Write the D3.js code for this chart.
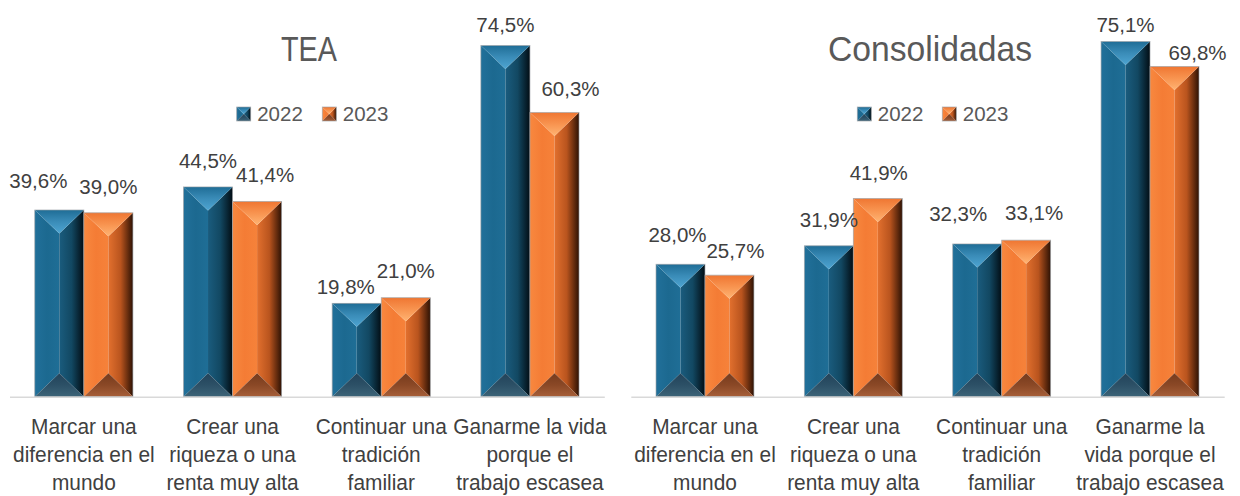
<!DOCTYPE html>
<html lang="es">
<head>
<meta charset="utf-8">
<title>Motivaciones para emprender 2022–2023</title>
<script src="https://cdn.jsdelivr.net/npm/d3@7"></script>
<style>
  html, body { margin: 0; padding: 0; background: #ffffff; }
  svg { display: block; }
  .title, .cat, .val, .leg { font-family: "Liberation Sans", Arial, sans-serif; }
  .title { fill: #595959; }
  .cat { fill: #404040; }
  .val { fill: #404040; }
  .leg { fill: #595959; }
</style>
</head>
<body>
<svg id="chart" width="1240" height="496"></svg>
<script>
// ---- data ----
const seriesNames = ["2022", "2023"];

const categoriesTEA = [
  "Marcar una\ndiferencia en el\nmundo",
  "Crear una\nriqueza o una\nrenta muy alta",
  "Continuar una\ntradición\nfamiliar",
  "Ganarme la vida\nporque el\ntrabajo escasea"
];
const tea2022 = [39.6, 44.5, 19.8, 74.5];
const tea2023 = [39.0, 41.4, 21.0, 60.3];

const categoriesConsolidadas = [
  "Marcar una\ndiferencia en el\nmundo",
  "Crear una\nriqueza o una\nrenta muy alta",
  "Continuar una\ntradición\nfamiliar",
  "Ganarme la\nvida porque el\ntrabajo escasea"
];
const cons2022 = [28.0, 31.9, 32.3, 75.1];
const cons2023 = [25.7, 41.9, 33.1, 69.8];

const valueDomain = [0, 80];

// ---- layout ----
const svg = d3.select("#chart");
const baseline = 396.7;
const catSqueeze = 0.95;   // horizontal squeeze for the condensed category text

const panels = [
  {
    title: "TEA", titleX: 309, titleY: 61, titleWidth: 56,
    categories: categoriesTEA, series: [tea2022, tea2023],
    left: 9.5, right: 604.3, top: 19.5,
    legendX: [236.7, 322.3],
    // hand-placed label offsets [dx, dy] per series, per category
    nudge: [[[-21, -3], [0, 0], [-11, 10], [0, 6]],
            [[0, 0], [8, 0], [0, -1], [16, 3]]]
  },
  {
    title: "Consolidadas", titleX: 930, titleY: 61, titleWidth: 204,
    categories: categoriesConsolidadas, series: [cons2022, cons2023],
    left: 630.8, right: 1224.2, top: 18.3,
    legendX: [857.3, 942.3],
    nudge: [[[-3, -3], [0, 0], [-19, -4], [0, 10]],
            [[6, 2], [1, 0], [8, -1], [23, 12]]]
  }
];

// ---- bevel paints ----
const palette = {
  "2022": {
    leftFace: ["#21709a", "#1c6990", "#1f6e96"],
    rightFace: ["#1a5c7e", "#124862", "#020d14"],
    topFace: ["#1f6d96", "#3a8cb8", "#4ea5d2"],
    bottomFace: ["#22435a", "#2c5066", "#3d6478"]
  },
  "2023": {
    leftFace: ["#f8883f", "#f47c35", "#f6823a"],
    rightFace: ["#e2702e", "#b9541e", "#2e1204"],
    topFace: ["#ef7632", "#f89450", "#ffb473"],
    bottomFace: ["#763b1d", "#8a4826", "#a75f39"]
  }
};

const defs = svg.append("defs");
function grad(id, stops, vertical) {
  const g = defs.append("linearGradient").attr("id", id)
    .attr("x1", 0).attr("y1", 0)
    .attr("x2", vertical ? 0 : 1).attr("y2", vertical ? 1 : 0);
  stops.forEach((c, i) => {
    g.append("stop").attr("offset", (i / (stops.length - 1)) * 100 + "%").attr("stop-color", c);
  });
}
seriesNames.forEach(s => {
  const p = palette[s];
  grad("lf" + s, p.leftFace, false);
  grad("rf" + s, p.rightFace, false);
  grad("tf" + s, p.topFace, true);
  grad("bf" + s, p.bottomFace, true);
});

// draws one bevelled block (four faces meeting on the centre line)
function bevel(g, s, x0, y0, w, h, depth) {
  const x1 = x0 + w, y1 = y0 + h, xc = x0 + w / 2;
  const d = Math.min(depth, h / 2);
  const pts = a => a.map(p => p.join(",")).join(" ");
  g.append("polygon").attr("points", pts([[x0, y0], [xc, y0 + d], [xc, y1 - d], [x0, y1]]))
    .attr("fill", `url(#lf${s})`);
  g.append("polygon").attr("points", pts([[x1, y0], [xc, y0 + d], [xc, y1 - d], [x1, y1]]))
    .attr("fill", `url(#rf${s})`);
  g.append("polygon").attr("points", pts([[x0, y0], [x1, y0], [xc, y0 + d]]))
    .attr("fill", `url(#tf${s})`);
  g.append("polygon").attr("points", pts([[x0, y1], [x1, y1], [xc, y1 - d]]))
    .attr("fill", `url(#bf${s})`);
  g.append("rect").attr("x", x0).attr("y", y0).attr("width", w).attr("height", h)
    .attr("fill", "none").attr("stroke", "#9da3a8").attr("stroke-width", 0.8)
    .attr("stroke-opacity", 0.8);
}

const fmt = v => d3.format(".1f")(v).replace(".", ",") + "%";

panels.forEach(cfg => {
  const g = svg.append("g");

  const x0 = d3.scaleBand()
    .domain(d3.range(cfg.categories.length))
    .range([cfg.left, cfg.right])
    .paddingInner(0.34).paddingOuter(0.17);
  const x1 = d3.scaleBand().domain(seriesNames).range([0, x0.bandwidth()]);
  const y = d3.scaleLinear().domain(valueDomain).range([baseline, cfg.top]);

  // title
  g.append("text").attr("class", "title")
    .attr("x", cfg.titleX - cfg.titleWidth / 2).attr("y", cfg.titleY)
    .attr("font-size", 35)
    .attr("textLength", cfg.titleWidth).attr("lengthAdjust", "spacingAndGlyphs")
    .text(cfg.title);

  // legend
  seriesNames.forEach((s, i) => {
    const lx = cfg.legendX[i];
    bevel(g, s, lx, 107, 14, 14, 7);
    g.append("text").attr("class", "leg")
      .attr("x", lx + 20.5).attr("y", 120.5)
      .attr("font-size", 20.5).text(s);
  });

  // bars
  seriesNames.forEach((s, si) => {
    cfg.series[si].forEach((v, ci) => {
      const bx = x0(ci) + x1(s);
      const by = y(v);
      bevel(g, s, bx, by, x1.bandwidth(), baseline - by, 23.5);
    });
  });

  // category axis
  const axis = g.append("g")
    .attr("transform", `translate(0,${baseline})`)
    .call(d3.axisBottom(x0).tickSize(0).tickSizeOuter(0).tickFormat(i => cfg.categories[i]));
  axis.attr("font-family", null).attr("font-size", null);
  axis.select(".domain").attr("stroke", "#d9d9d9").attr("stroke-width", 1.6);
  axis.selectAll(".tick text").each(function (i) {
    const t = d3.select(this);
    const lines = cfg.categories[i].split("\n");
    t.text(null).attr("y", 0).attr("dy", null)
      .attr("class", "cat").attr("font-size", 22)
      .attr("fill", null)
      .attr("transform", `scale(${catSqueeze},1)`);
    lines.forEach((ln, k) => {
      t.append("tspan").attr("x", 0).attr("y", 37.5 + k * 28).text(ln);
    });
  });

  // value labels
  seriesNames.forEach((s, si) => {
    cfg.series[si].forEach((v, ci) => {
      const n = cfg.nudge[si][ci];
      g.append("text").attr("class", "val")
        .attr("x", x0(ci) + x1(s) + x1.bandwidth() / 2 + n[0])
        .attr("y", y(v) - 19 + n[1])
        .attr("text-anchor", "middle").attr("font-size", 20.5)
        .text(fmt(v));
    });
  });
});
</script>
</body>
</html>
